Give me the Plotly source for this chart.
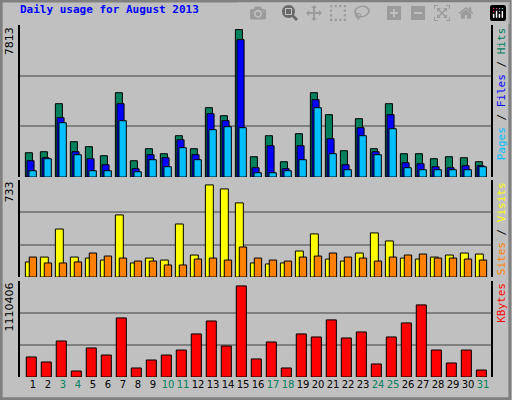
import plotly.graph_objects as go

days = list(range(1, 32))
weekend = [3, 4, 10, 11, 17, 18, 24, 25, 31]

hits = [1290, 1343, 3887, 1873, 1608, 1131, 4470, 866, 1502, 1237, 2191, 1502, 3675, 3251, 7813, 1078,
        2191, 813, 2297, 4470, 3304, 1396, 3092, 1502, 3887, 1237, 1237, 972, 1078, 1025, 813]
files = [866, 1025, 3145, 1343, 972, 654, 3887, 442, 1184, 1025, 1979, 1184, 3357, 2986, 7280, 495,
         1661, 442, 1661, 4099, 2032, 654, 2615, 1343, 3304, 760, 707, 548, 495, 601, 601]
pages = [336, 972, 2880, 1184, 336, 336, 2986, 283, 919, 548, 1555, 919, 2509, 2668, 2615, 230,
         230, 336, 919, 3675, 1237, 389, 2191, 1184, 2562, 495, 389, 389, 389, 389, 548]
visits = [120, 159, 382, 159, 151, 135, 494, 112, 151, 135, 422, 175, 733, 701, 590, 112,
          104, 112, 207, 343, 143, 127, 191, 351, 287, 151, 143, 159, 175, 191, 183]
sites = [159, 112, 112, 120, 191, 167, 151, 127, 127, 96, 96, 143, 151, 135, 239, 151,
         135, 127, 159, 167, 191, 159, 151, 127, 159, 175, 183, 151, 151, 143, 135]
kbytes = [244000, 183000, 439000, 73000, 354000, 268000, 720000, 110000, 207000, 268000, 329000,
          525000, 683000, 378000, 1110406, 220000, 427000, 110000, 525000, 488000, 696000, 476000,
          549000, 159000, 488000, 659000, 879000, 329000, 171000, 329000, 85000]

line = dict(color="black", width=1)
fig = go.Figure()
fig.add_bar(x=days, y=hits, offset=-0.51, width=0.47, marker=dict(color="#00805C", line=line), yaxis="y")
fig.add_bar(x=days, y=files, offset=-0.40, width=0.47, marker=dict(color="#0000FF", line=line), yaxis="y")
fig.add_bar(x=days, y=pages, offset=-0.27, width=0.49, marker=dict(color="#00C0FF", line=line), yaxis="y")
fig.add_bar(x=days, y=visits, offset=-0.51, width=0.53, marker=dict(color="#FFFF00", line=line), yaxis="y2")
fig.add_bar(x=days, y=sites, offset=-0.25, width=0.49, marker=dict(color="#FF8000", line=line), yaxis="y2")
fig.add_bar(x=days, y=kbytes, offset=-0.45, width=0.67, marker=dict(color="#FF0000", line=line), yaxis="y3")

ticktext = [f"<span style='color:#00805C'>{d}</span>" if d in weekend else str(d) for d in days]

ax = dict(showline=True, linecolor="black", linewidth=2, mirror=True, showticklabels=False,
          gridcolor="#808080", gridwidth=1.5, zeroline=False, ticks="")
fig.update_layout(
    width=512, height=400, barmode="overlay", showlegend=False,
    paper_bgcolor="#C0C0C0", plot_bgcolor="#C0C0C0",
    margin=dict(l=20, r=21, t=25, b=23),
    font=dict(family="DejaVu Sans", size=11, color="black"),
    xaxis=dict(range=[0.133, 31.53], tickvals=days, ticktext=ticktext, showgrid=False,
               showline=False, ticks="", anchor="y3", tickangle=0, tickfont=dict(size=10),
               automargin=False),
    yaxis=dict(ax, domain=[0.568, 1], range=[0, 8056], tickvals=[8056 / 3, 8056 * 2 / 3]),
    yaxis2=dict(ax, domain=[0.284, 0.56], range=[0, 773], tickvals=[773 / 3, 773 * 2 / 3]),
    yaxis3=dict(ax, domain=[0, 0.273], range=[0, 1171400], tickvals=[1171400 / 3, 1171400 * 2 / 3]),
)

fig.add_annotation(text="<b>Daily usage for August 2013</b>", xref="paper", yref="paper", x=-0.005, y=1.045,
                   xanchor="left", yanchor="middle", showarrow=False,
                   font=dict(family="DejaVu Sans Mono", size=11, color="#0000FF"))
for txt, yv in [("7813", 1.0), ("733", 0.56), ("1110406", 0.273)]:
    fig.add_annotation(text=txt, xref="paper", yref="paper", x=-0.005, y=yv, xanchor="right", yanchor="top",
                       textangle=-90, showarrow=False, font=dict(size=11))
rlabels = [
    ("<span style='color:#00C0FF'>Pages</span> / <span style='color:#0000FF'>Files</span> / "
     "<span style='color:#00805C'>Hits</span>", 1.0),
    ("<span style='color:#FF8000'>Sites</span> / <span style='color:#FFFF00'>Visits</span>", 0.56),
    ("<span style='color:#FF0000'>KBytes</span>", 0.273),
]
for txt, yv in rlabels:
    fig.add_annotation(text=txt, xref="paper", yref="paper", x=1.005, y=yv, xanchor="left", yanchor="top",
                       textangle=-90, showarrow=False, font=dict(family="DejaVu Sans Mono", size=11))

# bevel frame
fig.add_shape(type="rect", xref="paper", yref="paper", x0=-0.04, y0=-0.062, x1=1.04, y1=1.068,
              line=dict(color="#808080", width=3), layer="below")

fig.write_html("out.html", post_script="document.body.style.margin='0';")
